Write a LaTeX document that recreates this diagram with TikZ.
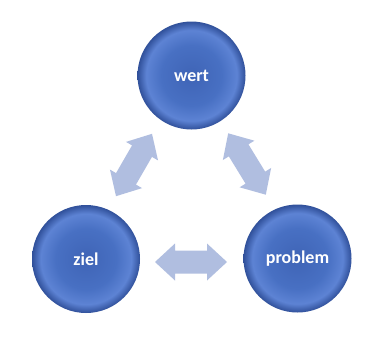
\documentclass[tikz,border=0pt]{standalone}
\usepackage{fontspec}
\setmainfont{Carlito}
\definecolor{cA}{HTML}{3F64B6}
\definecolor{cB}{HTML}{4870C3}
\definecolor{cC}{HTML}{5D83D4}
\definecolor{cD}{HTML}{30509A}
\definecolor{arr}{HTML}{B0BEE0}
\pgfdeclareradialshading{ballshade}{\pgfpoint{0bp}{0bp}}{color(0bp)=(cA); color(14bp)=(cB); color(21bp)=(cC); color(25bp)=(cD); color(50bp)=(cD)}
\tikzset{
  ball/.style={circle, minimum size=108pt, inner sep=0pt, shading=ballshade, text=white, font=\bfseries\fontsize{18}{20}\selectfont},
  dblarrow/.style={fill=arr, draw=none}
}
\newcommand{\dblarrowpath}{(-36,0) -- (-16,-18.5) -- (-16,-11.5) -- (16,-11.5) -- (16,-18.5) -- (36,0) -- (16,18.5) -- (16,11.5) -- (-16,11.5) -- (-16,18.5) -- cycle}
\begin{document}
\begin{tikzpicture}[x=1pt,y=-1pt]
\useasboundingbox[fill=white] (0,0) rectangle (391,343);
\node[ball] (wert) at (191.5,75.5) {wert};
\node[ball] (ziel) at (86,259) {ziel};
\node[ball] (problem) at (297.5,258.5) {problem};
\begin{scope}[shift={(134,165)}, rotate=60]
\fill[dblarrow] \dblarrowpath;
\end{scope}
\begin{scope}[shift={(247,164)}, rotate=-58.5]
\fill[dblarrow] \dblarrowpath;
\end{scope}
\begin{scope}[shift={(191,262)}]
\fill[dblarrow] \dblarrowpath;
\end{scope}
\end{tikzpicture}
\end{document}
